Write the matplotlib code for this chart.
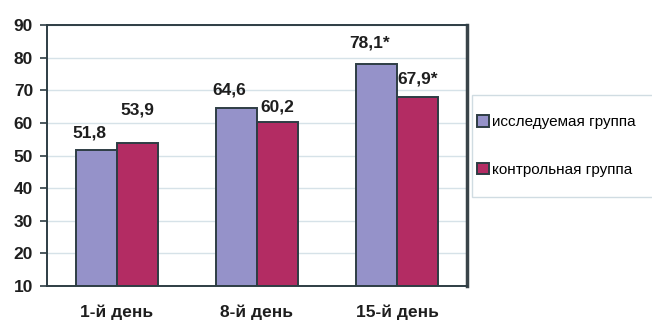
import matplotlib
matplotlib.use("Agg")
import matplotlib.pyplot as plt
from matplotlib.patches import Rectangle
import numpy as np

plt.rcParams['font.family'] = ['Liberation Sans', 'DejaVu Sans']

days = ['1-й день', '8-й день', '15-й день']
study_group = [51.8, 64.6, 78.1]
control_group = [53.9, 60.2, 67.9]
study_labels = ['51,8', '64,6', '78,1*']
control_labels = ['53,9', '60,2', '67,9*']
series_names = ['исследуемая группа', 'контрольная группа']

# how far above each bar its label sits (data units)
study_offsets = [5.0, 5.5, 6.4]
control_offsets = [10.0, 4.7, 5.6]

blue = '#9592c9'
red = '#b32c63'
edge = '#2e3d44'
txt = '#1e1e1e'

W, H = 652, 320
fig = plt.figure(figsize=(W / 100, H / 100), dpi=100)
ax = fig.add_axes([47 / W, 34 / H, 420 / W, 261 / H])

x = np.arange(len(days))
w = 0.29
b1 = ax.bar(x - w / 2, np.array(study_group) - 10, w, bottom=10, color=blue,
            edgecolor=edge, linewidth=1.4, label=series_names[0], zorder=3)
b2 = ax.bar(x + w / 2, np.array(control_group) - 10, w, bottom=10, color=red,
            edgecolor=edge, linewidth=1.4, label=series_names[1], zorder=3)

for i in range(len(days)):
    ax.text(x[i] - w / 2 - 0.05, study_group[i] + study_offsets[i], study_labels[i],
            ha='center', va='center', fontsize=12.5, fontweight='bold', color=txt)
    ax.text(x[i] + w / 2, control_group[i] + control_offsets[i], control_labels[i],
            ha='center', va='center', fontsize=12.5, fontweight='bold', color=txt)

ax.set_xlim(-0.5, 2.5)
ax.set_ylim(10, 90)
ax.set_yticks(range(10, 91, 10))
ax.set_xticks(x)
ax.set_xticklabels(days, fontsize=12.5, fontweight='bold', color=txt)
ax.tick_params(axis='x', length=0, pad=13)
ax.tick_params(axis='y', length=5, width=1.2, color=edge, pad=5,
               labelsize=12.5, labelcolor=txt)
for lab in ax.get_yticklabels():
    lab.set_fontweight('bold')

ax.grid(axis='y', color='#d6e2e8', linewidth=1.0, zorder=0)
for side in ['top', 'left', 'bottom']:
    ax.spines[side].set_color(edge)
    ax.spines[side].set_linewidth(1.4)
ax.spines['right'].set_color('#3a4449')
ax.spines['right'].set_linewidth(2.5)

# legend box runs off the right edge, like the source image
fig.patches.append(Rectangle((472 / W, 1 - 197 / H), 300 / W, 102 / H,
                             transform=fig.transFigure, facecolor='white',
                             edgecolor='#d0dce2', linewidth=1.0))
fig.legend(handles=[b1, b2], loc='upper left',
           bbox_to_anchor=(477 / W, 1 - 115 / H), borderaxespad=0,
           prop={'size': 11}, frameon=False,
           handlelength=0.8, handleheight=0.8, handletextpad=0.2,
           labelspacing=2.2, borderpad=0)

fig.savefig('out.png', dpi=100)
